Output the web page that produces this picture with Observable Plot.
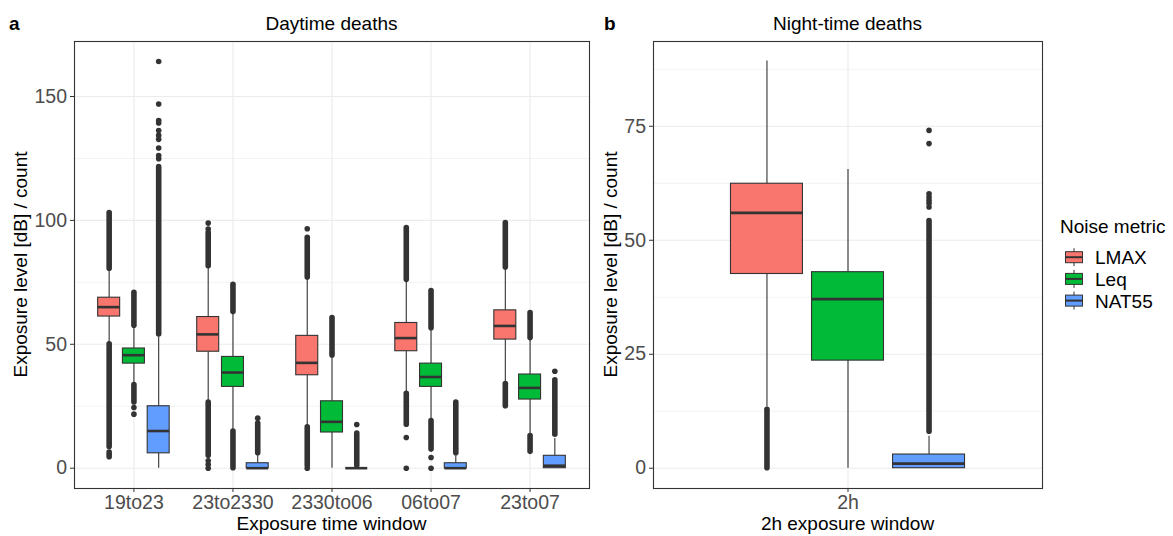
<!DOCTYPE html>
<html><head><meta charset="utf-8">
<script src="https://cdn.jsdelivr.net/npm/d3@7"></script>
<script src="https://cdn.jsdelivr.net/npm/@observablehq/plot@0.6"></script>
<style>
body{margin:0;background:#fff;}
#wrap{position:relative;width:1173px;height:536px;background:#fff;font-family:"Liberation Sans",Arial,sans-serif;}
#wrap > svg{position:absolute;top:0;}
</style></head><body><div id="wrap"></div>
<script>
const metrics = ["LMAX", "Leq", "NAT55"];
const metricColors = ["#F8766D", "#00BA38", "#619CFF"];

// ---- Panel a: daytime deaths (rows: LMAX, Leq, NAT55; columns follow dayWindows)
const dayWindows = ["19to23", "23to2330", "2330to06", "06to07", "23to07"];
const dayLow    = [[50.5, 27.1, 17.2, 30.8, 34.8], [34.1, 15.3, 0, 19.4, 13.6], [0, 0, 0, 0, 0]];
const dayQ1     = [[61.2, 47.0, 37.5, 47.2, 51.9], [42.2, 32.8, 14.4, 32.8, 27.7], [6, 0, 0, 0, 0]];
const dayMedian = [[65.0, 54.0, 42.5, 52.5, 57.4], [45.6, 38.6, 18.7, 36.8, 32.4], [15, 0, 0, 0, 1]];
const dayQ3     = [[68.8, 61.0, 53.4, 58.6, 63.7], [48.3, 44.9, 27.0, 42.2, 37.8], [25, 2, 0, 2, 5]];
const dayHigh   = [[79.8, 80.8, 76.5, 75.5, 80.5], [56.7, 62.4, 44.9, 55.6, 51.6], [53, 5, 0, 5, 12]];
// dense runs of outliers (window, metric, from, to)
const dayOutlierRuns = [
  ["19to23", "LMAX", 80.5, 103], ["19to23", "LMAX", 8.5, 50],
  ["19to23", "Leq", 57.5, 70.8], ["19to23", "Leq", 26.5, 33.5],
  ["19to23", "NAT55", 54, 121.5],
  ["23to2330", "LMAX", 81.5, 95], ["23to2330", "LMAX", 5, 26.5],
  ["23to2330", "Leq", 63, 74], ["23to2330", "Leq", 0, 14.8],
  ["23to2330", "NAT55", 6, 18],
  ["2330to06", "LMAX", 77, 93], ["2330to06", "LMAX", 1, 16.5],
  ["2330to06", "Leq", 45.5, 60.6],
  ["2330to06", "NAT55", 1, 14],
  ["06to07", "LMAX", 76, 96.9], ["06to07", "LMAX", 17.5, 30],
  ["06to07", "Leq", 56.5, 71.5], ["06to07", "Leq", 7.5, 19],
  ["06to07", "NAT55", 6, 26.5],
  ["23to07", "LMAX", 81, 98.9], ["23to07", "LMAX", 25, 34],
  ["23to07", "Leq", 52.5, 62.6], ["23to07", "Leq", 6.6, 13],
  ["23to07", "NAT55", 13.5, 35.5]
];
// isolated outliers (window, metric, value)
const dayOutlierPoints = [
  ["19to23", "LMAX", 6.5], ["19to23", "LMAX", 5.6], ["19to23", "LMAX", 4.6],
  ["19to23", "Leq", 24.5], ["19to23", "Leq", 21.8],
  ["19to23", "NAT55", 124.9], ["19to23", "NAT55", 126.2], ["19to23", "NAT55", 129.2],
  ["19to23", "NAT55", 132.7], ["19to23", "NAT55", 134.3], ["19to23", "NAT55", 136.3],
  ["19to23", "NAT55", 139.3], ["19to23", "NAT55", 140.3], ["19to23", "NAT55", 147],
  ["19to23", "NAT55", 164.1],
  ["23to2330", "LMAX", 96.5], ["23to2330", "LMAX", 98.9], ["23to2330", "LMAX", 3],
  ["23to2330", "LMAX", 1.5], ["23to2330", "LMAX", 0],
  ["23to2330", "NAT55", 20.2],
  ["2330to06", "LMAX", 96.6], ["2330to06", "LMAX", 0],
  ["2330to06", "NAT55", 17.6],
  ["06to07", "LMAX", 12.4], ["06to07", "LMAX", 0],
  ["06to07", "Leq", 4.3], ["06to07", "Leq", 0],
  ["23to07", "NAT55", 39.1]
];
const dayTicks = [0, 50, 100, 150];
const dayMinor = [25, 75, 125];

// ---- Panel b: night-time deaths
const nightWindows = ["2h"];
const nightLow    = [[13.4], [0], [0]];
const nightQ1     = [[42.6], [23.6], [0]];
const nightMedian = [[56.0], [37.1], [1]];
const nightQ3     = [[62.4], [43.0], [3]];
const nightHigh   = [[89.3], [65.5], [7]];
const nightOutlierRuns = [["2h", "LMAX", 0, 12.8], ["2h", "NAT55", 8, 54.2]];
const nightOutlierPoints = [
  ["2h", "NAT55", 57.3], ["2h", "NAT55", 58.1], ["2h", "NAT55", 58.8],
  ["2h", "NAT55", 59.5], ["2h", "NAT55", 60.2], ["2h", "NAT55", 71.2], ["2h", "NAT55", 74.1]
];
const nightTicks = [0, 25, 50, 75];
const nightMinor = [12.5, 37.5, 62.5, 87.5];

const FONT = '"Liberation Sans", Arial, sans-serif';
const DODGE = 0.25, HALF = 0.111;

function boxPanel({windows, low, q1, med, q3, high, runs, points, yDomain, yMajor, yMinor, width, marginLeft, marginRight}) {
  const xi = (w, m) => windows.indexOf(w) + (metrics.indexOf(m) - 1) * DODGE;
  const rows = windows.flatMap((w, i) => metrics.map((m, j) => ({
    metric: m, x: i + (j - 1) * DODGE,
    lo: low[j][i], q1: q1[j][i], med: med[j][i], q3: q3[j][i], hi: high[j][i]
  })));
  const runRows = runs.map(([w, m, a, b]) => ({metric: m, x: xi(w, m), a, b}));
  const pointRows = points.map(([w, m, v]) => ({metric: m, x: xi(w, m), v}));
  const idx = windows.map((_, i) => i);
  return Plot.plot({
    width, height: 536, marginTop: 41, marginBottom: 48, marginLeft, marginRight,
    style: {fontFamily: FONT, fontSize: "19.5px", background: "transparent", overflow: "visible"},
    x: {type: "linear", domain: [-0.6, windows.length - 0.4]},
    y: {domain: yDomain},
    color: {domain: metrics, range: metricColors},
    marks: [
      Plot.gridY({ticks: yMinor, stroke: "#ebebeb", strokeOpacity: 1, strokeWidth: 0.6}),
      Plot.gridY({ticks: yMajor, stroke: "#ebebeb", strokeOpacity: 1, strokeWidth: 1.1}),
      Plot.gridX({ticks: idx, stroke: "#ebebeb", strokeOpacity: 1, strokeWidth: 1.1}),
      Plot.ruleX(runRows, {x: "x", y1: "a", y2: "b", stroke: "#333", strokeWidth: 5.6, strokeLinecap: "round"}),
      Plot.dot(pointRows, {x: "x", y: "v", r: 2.8, fill: "#333", stroke: null}),
      Plot.ruleX(rows, {x: "x", y1: "lo", y2: "q1", stroke: "#333", strokeWidth: 1.1}),
      Plot.ruleX(rows, {x: "x", y1: "q3", y2: "hi", stroke: "#333", strokeWidth: 1.1}),
      Plot.rect(rows, {x1: d => d.x - HALF, x2: d => d.x + HALF, y1: "q1", y2: "q3", fill: "metric", stroke: "#333", strokeWidth: 1.1}),
      Plot.ruleY(rows, {y: "med", x1: d => d.x - HALF, x2: d => d.x + HALF, stroke: "#333", strokeWidth: 2.6}),
      Plot.frame({stroke: "#333", strokeWidth: 1.1}),
      Plot.axisY({ticks: yMajor, tickSize: 4, tickPadding: 3.5, fill: "#4d4d4d", stroke: "#333", label: null}),
      Plot.axisX({ticks: idx, tickFormat: i => windows[i], tickSize: 4, tickPadding: 3, fill: "#4d4d4d", stroke: "#333", label: null})
    ]
  });
}

const wrap = document.getElementById("wrap");

const a = boxPanel({
  windows: dayWindows, low: dayLow, q1: dayQ1, med: dayMedian, q3: dayQ3, high: dayHigh,
  runs: dayOutlierRuns, points: dayOutlierPoints,
  yDomain: [-8.2, 172.2], yMajor: dayTicks, yMinor: dayMinor,
  width: 600, marginLeft: 74, marginRight: 11
});
a.style.left = "0px";
wrap.appendChild(a);

const b = boxPanel({
  windows: nightWindows, low: nightLow, q1: nightQ1, med: nightMedian, q3: nightQ3, high: nightHigh,
  runs: nightOutlierRuns, points: nightOutlierPoints,
  yDomain: [-4.45, 93.6], yMajor: nightTicks, yMinor: nightMinor,
  width: 460, marginLeft: 63, marginRight: 8
});
b.style.left = "590px";
wrap.appendChild(b);

// ---- overlay: titles, axis titles, legend
const ov = d3.create("svg").attr("width", 1173).attr("height", 536)
  .style("left", "0px").style("font-family", FONT);
const txt = (x, y, s, opts = {}) => ov.append("text").attr("x", x).attr("y", y)
  .attr("font-size", opts.size || 19).attr("font-weight", opts.weight || null)
  .attr("text-anchor", opts.anchor || "middle").attr("fill", opts.fill || "#000")
  .attr("transform", opts.rotate ? `rotate(-90 ${x} ${y})` : null).text(s);

txt(9, 30, "a", {anchor: "start", weight: "bold"});
txt(331.5, 30, "Daytime deaths");
txt(604, 30, "b", {anchor: "start", weight: "bold"});
txt(847.5, 30, "Night-time deaths");
txt(331.5, 530, "Exposure time window");
txt(847.5, 530, "2h exposure window");
txt(27, 264.5, "Exposure level [dB] / count", {rotate: true});
txt(616.5, 264.5, "Exposure level [dB] / count", {rotate: true});

txt(1060, 233, "Noise metric", {anchor: "start"});
metrics.forEach((m, j) => {
  const cy = 257.2 + j * 21.7;
  const g = ov.append("g");
  g.append("line").attr("x1", 1074).attr("x2", 1074).attr("y1", cy - 9).attr("y2", cy + 9)
    .attr("stroke", "#333").attr("stroke-width", 1);
  g.append("rect").attr("x", 1065.5).attr("y", cy - 5.5).attr("width", 17).attr("height", 11)
    .attr("fill", metricColors[j]).attr("stroke", "#333").attr("stroke-width", 1);
  g.append("line").attr("x1", 1065.5).attr("x2", 1082.5).attr("y1", cy).attr("y2", cy)
    .attr("stroke", "#333").attr("stroke-width", 2);
  txt(1095, cy + 7, m, {anchor: "start", size: 19});
});
wrap.appendChild(ov.node());
</script>
</body></html>
